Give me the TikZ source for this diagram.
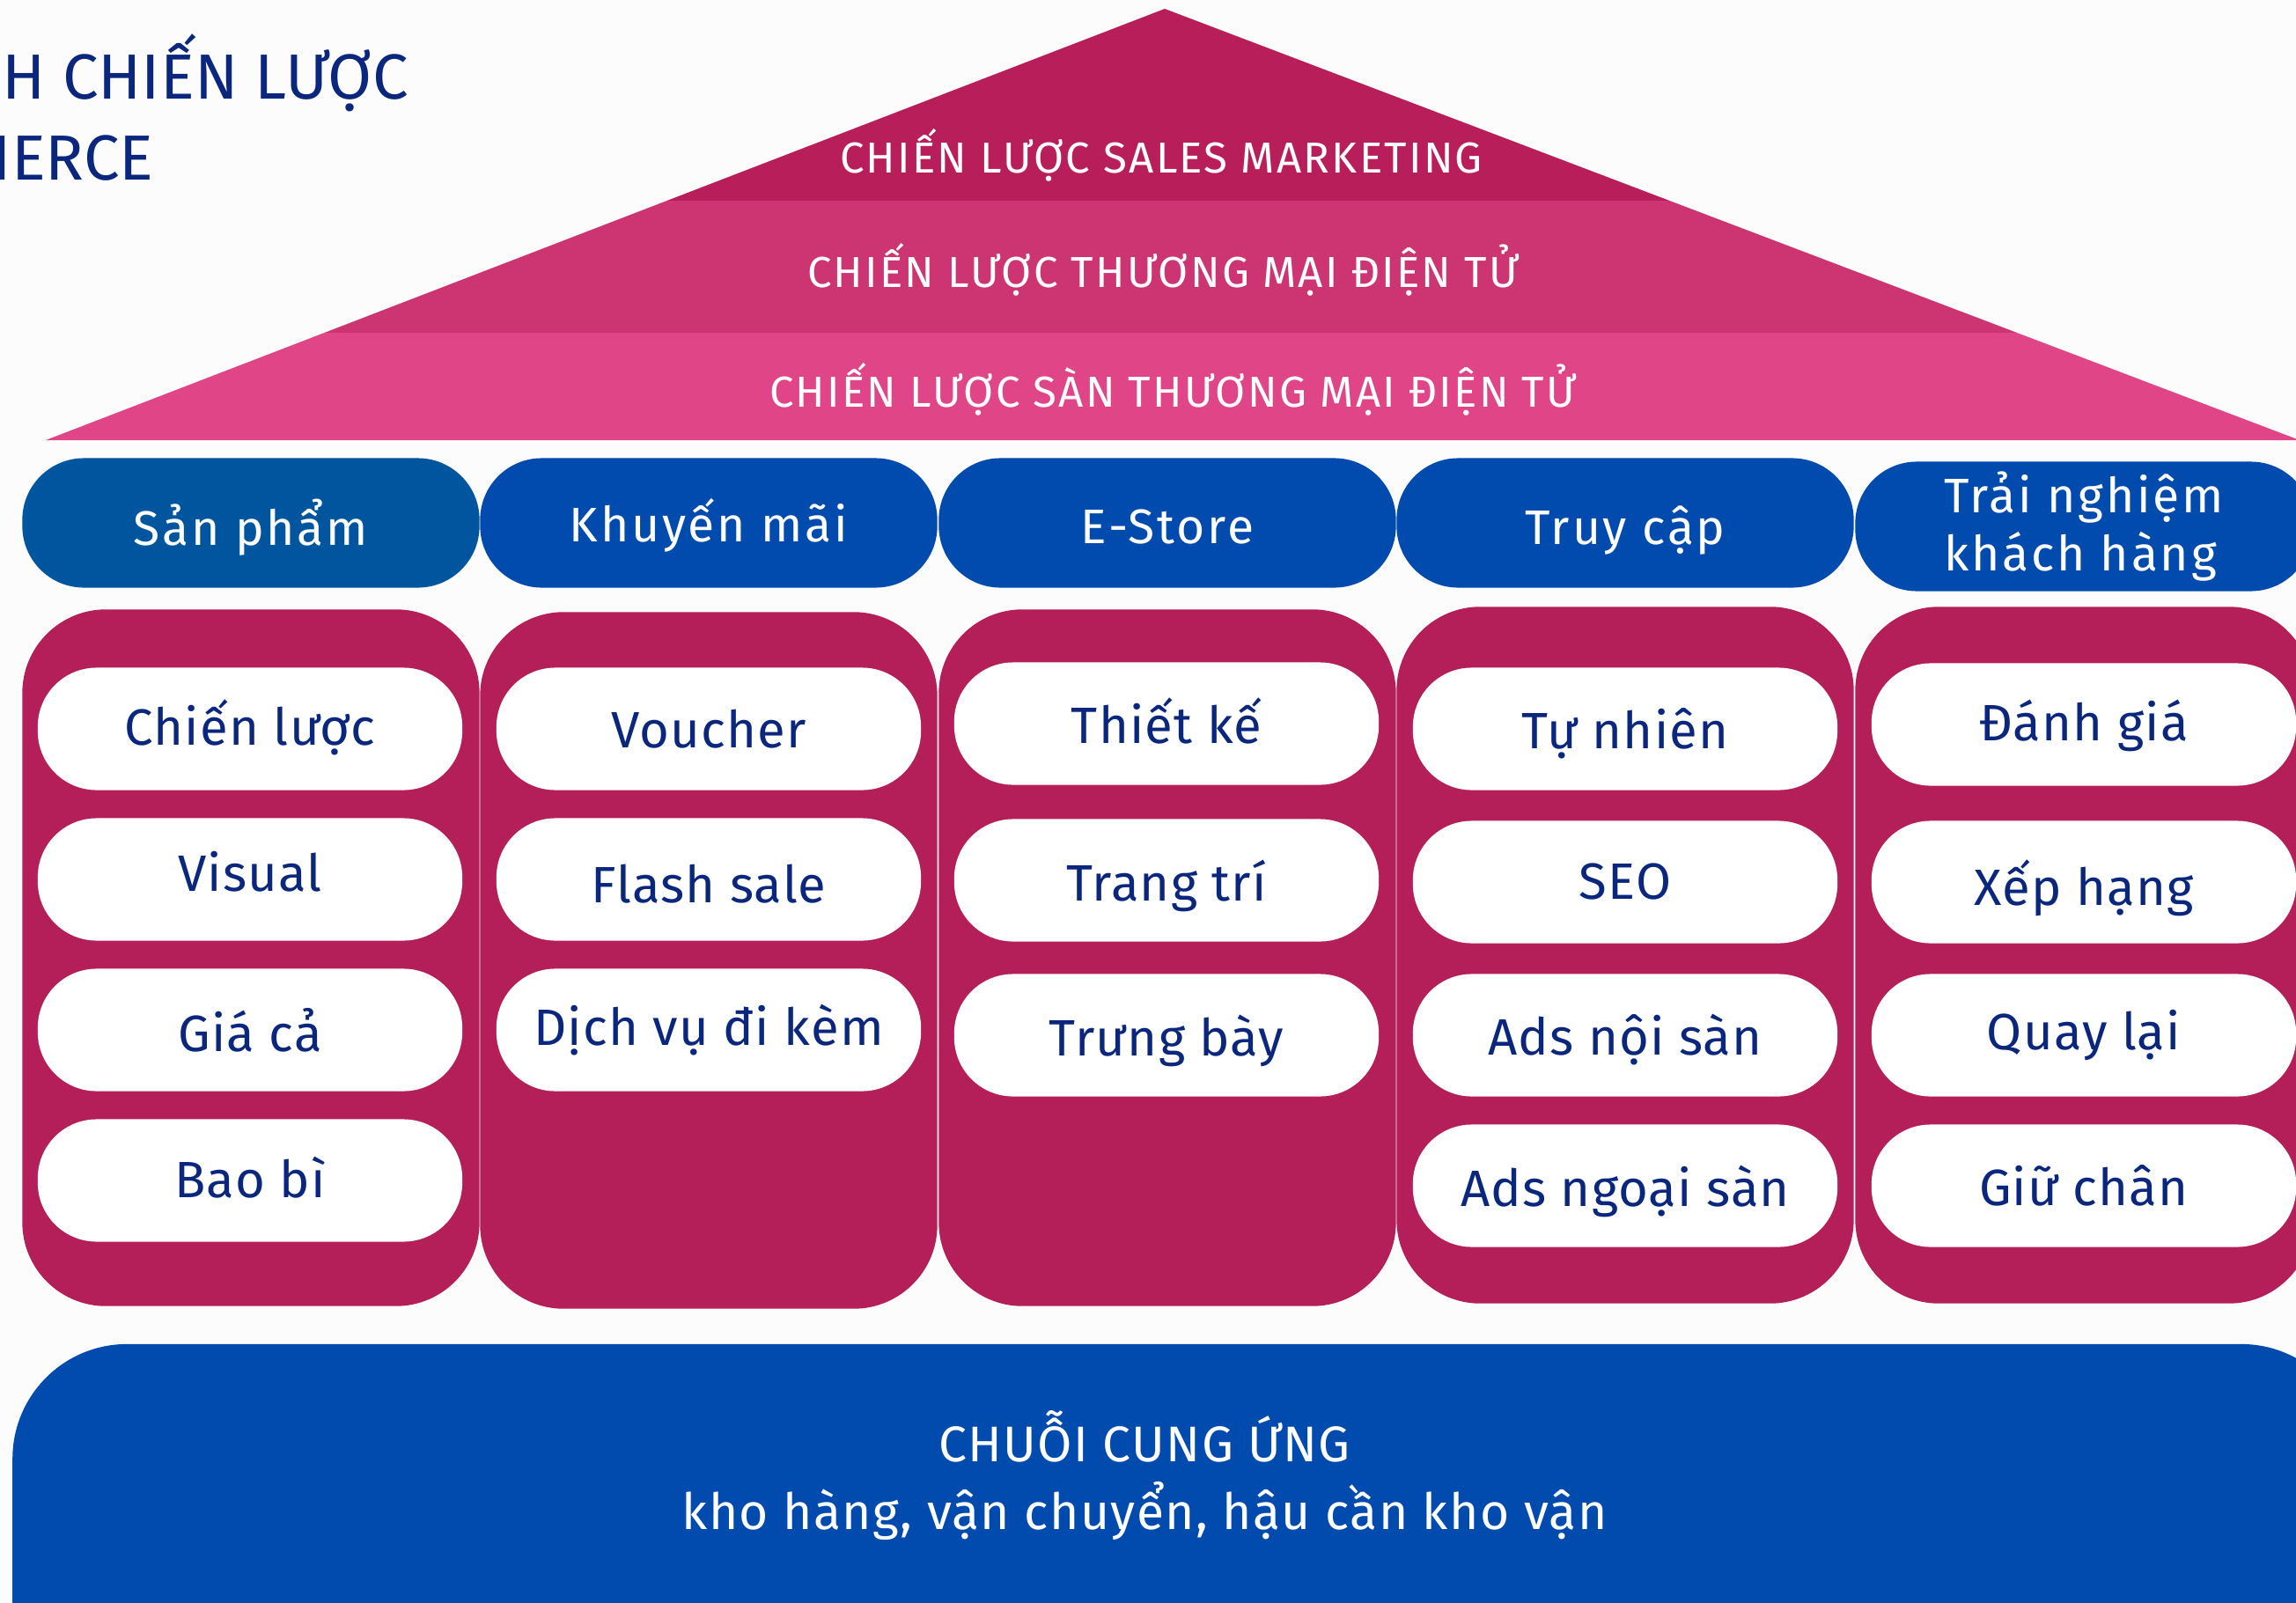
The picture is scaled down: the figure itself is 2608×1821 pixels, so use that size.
\documentclass[tikz,border=0pt]{standalone}
\usepackage{fontspec}
\setmainfont{Fira Sans}
\definecolor{bg}{RGB}{252,252,252}
\definecolor{navy}{RGB}{10,38,125}
\definecolor{roofA}{RGB}{184,31,90}
\definecolor{roofB}{RGB}{205,52,114}
\definecolor{roofC}{RGB}{224,70,135}
\definecolor{colpink}{RGB}{180,31,89}
\definecolor{hdrA}{RGB}{0,86,158}
\definecolor{hdrB}{RGB}{0,75,173}
\newcommand{\vmove}[2]{\raisebox{#1}[\height][\depth]{#2}}
\tikzset{
  rooftext/.style={text=white, font=\fontsize{14}{16}\selectfont\addfontfeature{LetterSpace=4.5}, inner sep=0pt},
  hdrpill/.style={fill=hdrB, rounded corners=0.7cm, minimum width=5.19cm, minimum height=1.47cm, text=white, font=\fontsize{15.7}{19}\selectfont\addfontfeature{LetterSpace=5}, align=left, inner sep=0pt},
  colbody/.style={fill=colpink, rounded corners=0.95cm, minimum width=5.19cm, inner sep=0pt},
  itempill/.style={fill=white, rounded corners=0.67cm, minimum width=4.82cm, minimum height=1.39cm, text=navy, font=\fontsize{16.5}{19}\selectfont\addfontfeature{LetterSpace=2}, inner sep=0pt},
  titletext/.style={text=navy, font=\fontsize{20.6}{24}\selectfont, inner sep=0pt, anchor=base west},
  bartext/.style={text=white, font=\fontsize{16.2}{19}\selectfont\addfontfeature{LetterSpace=2.5}, inner sep=0pt}
}
\begin{document}
\begin{tikzpicture}[x=0.01cm,y=-0.01cm]
\useasboundingbox (0,0) rectangle (2608,1821);
\clip (0,0) rectangle (2608,1821);
\fill[bg] (0,0) rectangle (2608,1821);

% title (cut off at left, as in the reference)
\node[titletext] (title1) at (2,113) {H CHIẾN LƯỢC};
\node[titletext] (title2) at (-9,204) {IERCE};

% roof
\begin{scope}
\clip (52,500) -- (1323,10) -- (2612,500) -- cycle;
\fill[roofA] (0,0) rectangle (2608,228);
\fill[roofB] (0,228) rectangle (2608,378);
\fill[roofC] (0,378) rectangle (2608,502);
\end{scope}
\node[rooftext] (roof1) at (1319,176) {CHIẾN LƯỢC SALES MARKETING};
\node[rooftext] (roof2) at (1321,306) {CHIẾN LƯỢC THƯƠNG MẠI ĐIỆN TỬ};
\node[rooftext] (roof3) at (1332,442) {CHIẾN LƯỢC SÀN THƯƠNG MẠI ĐIỆN TỬ};

% header pills
\node[hdrpill, fill=hdrA] (h1) at (285,594) {\vmove{-1.4pt}{Sản phẩm}};
\node[hdrpill] (h2) at (805,594) {\vmove{-0.9pt}{Khuyến mãi}};
\node[hdrpill] (h3) at (1326,594) {\vmove{-1.4pt}{E-Store}};
\node[hdrpill] (h4) at (1846,594) {\vmove{-2.4pt}{Truy cập}};
\node[hdrpill] (h5) at (2367,598) {Trải nghiệm\\khách hàng};

% column bodies
\node[colbody, minimum height=7.91cm] (c1) at (285,1088) {};
\node[colbody, minimum height=7.91cm] (c2) at (805,1091) {};
\node[colbody, minimum height=7.91cm] (c3) at (1326,1088) {};
\node[colbody, minimum height=7.91cm] (c4) at (1846,1085) {};
\node[colbody, minimum height=7.91cm] (c5) at (2367,1085) {};

% column 1
\node[itempill] (p11) at (284,828) {\vmove{0.5pt}{Chiến lược}};
\node[itempill] (p12) at (284,999) {\vmove{2.4pt}{Visual}};
\node[itempill] (p13) at (284,1170) {Giá cả};
\node[itempill] (p14) at (284,1341) {\vmove{0.9pt}{Bao bì}};
% column 2
\node[itempill] (p21) at (805,828) {Voucher};
\node[itempill] (p22) at (805,999) {\vmove{-1.4pt}{Flash sale}};
\node[itempill] (p23) at (805,1170) {Dịch vụ đi kèm};
% column 3
\node[itempill] (p31) at (1325,822) {\vmove{0.9pt}{Thiết kế}};
\node[itempill] (p32) at (1325,1000) {\vmove{-1.9pt}{Trang trí}};
\node[itempill] (p33) at (1325,1176) {\vmove{-1.9pt}{Trưng bày}};
% column 4
\node[itempill] (p41) at (1846,828) {\vmove{-1.4pt}{Tự nhiên}};
\node[itempill] (p42) at (1846,1002) {SEO};
\node[itempill] (p43) at (1846,1176) {\vmove{-1.4pt}{Ads nội sàn}};
\node[itempill] (p44) at (1846,1347) {\vmove{-1.9pt}{Ads ngoại sàn}};
% column 5
\node[itempill] (p51) at (2367,823) {\vmove{-0.5pt}{Đánh giá}};
\node[itempill] (p52) at (2367,1002) {\vmove{-1.9pt}{Xếp hạng}};
\node[itempill] (p53) at (2367,1176) {Quay lại};
\node[itempill] (p54) at (2367,1347) {Giữ chân};

% bottom bar
\node[fill=hdrB, rounded corners=1.3cm, minimum width=26.6cm, minimum height=4.4cm, inner sep=0pt] (bar) at (1345,1747) {};
\node[bartext] (chain) at (1300,1632) {CHUỖI CUNG ỨNG};
\node[bartext] (chainsub) at (1300,1716) {kho hàng, vận chuyển, hậu cần kho vận};
\end{tikzpicture}
\end{document}
